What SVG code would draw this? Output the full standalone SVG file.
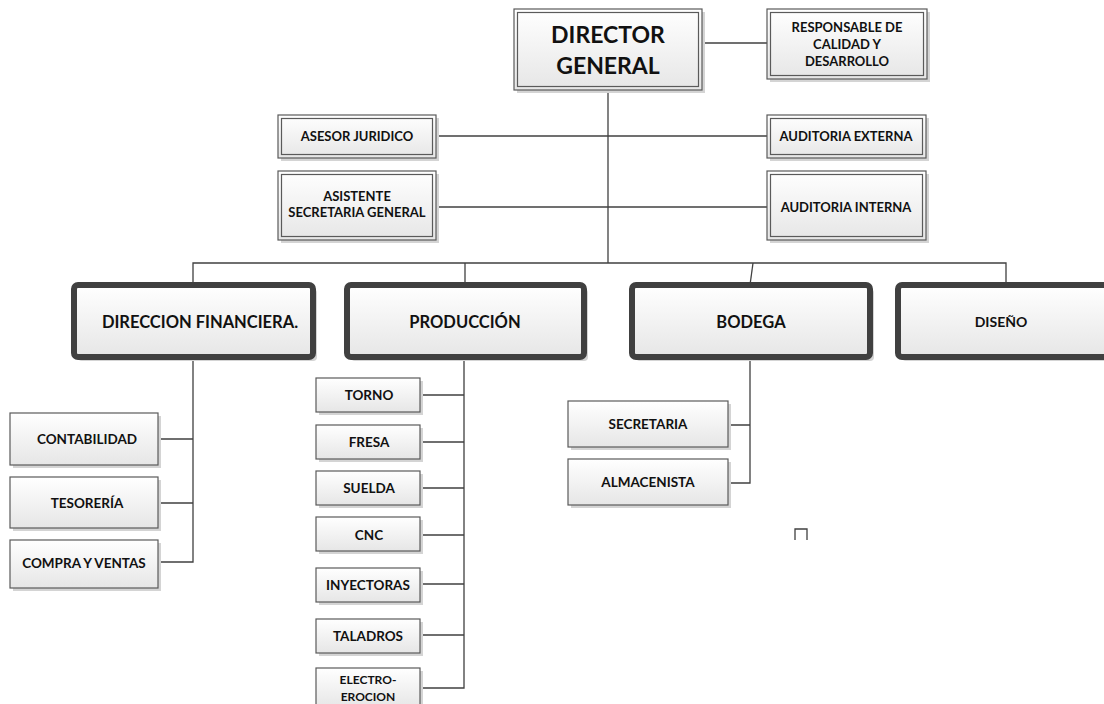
<svg xmlns="http://www.w3.org/2000/svg" width="1104" height="704" viewBox="0 0 1104 704">
<defs>
<linearGradient id="g" x1="0" y1="0" x2="0" y2="1"><stop offset="0" stop-color="#ffffff"/><stop offset="1" stop-color="#e6e6e6"/></linearGradient>
<style>
.sh{fill:#d4d4d4}
.b{fill:url(#g);stroke:#5a5a5a;stroke-width:1.2}
.bi{fill:none;stroke:#5a5a5a;stroke-width:1.2}
.thick{fill:url(#g);stroke:#404040;stroke-width:6}
.c{fill:none;stroke:#404040;stroke-width:1.3}
text{font-family:Lato,"Open Sans","Liberation Sans",sans-serif;font-weight:bold;fill:#111;text-anchor:middle}
.t11{font-size:13px}
.t12{font-size:13.5px}
.te{font-size:12px}
.tds{font-size:14px}
.t14{font-size:16.5px}
.t23{font-size:23px}
</style>
</defs>
<rect width="1104" height="704" fill="#fff"/>
<g id="connectors">
<path class="c" d="M702,43 H767"/>
<path class="c" d="M608,90 V263"/>
<path class="c" d="M436,136 H767"/>
<path class="c" d="M436,207 H767"/>
<path class="c" d="M193,285 V263 H1006 V285"/>
<path class="c" d="M465,263 V285"/>
<path class="c" d="M753,263 L750,285"/>
<path class="c" d="M193,357 V562 H158"/>
<path class="c" d="M158,439 H193 M158,503 H193"/>
<path class="c" d="M464,357 V688 H420"/>
<path class="c" d="M420,395 H464 M420,442 H464 M420,488 H464 M420,535 H464 M420,584 H464 M420,635 H464"/>
<path class="c" d="M750,357 V483 H728 M728,425 H750"/>
<path class="c" d="M795,540 V529 H807 V540"/>
</g>
<g id="director">
<rect class="sh" x="517" y="12" width="188" height="81"/>
<rect class="b" x="514" y="9" width="188" height="81"/>
<rect class="bi" x="517.5" y="12.5" width="181" height="74"/>
<text class="t23" x="608" y="43">DIRECTOR</text>
<text class="t23" x="608" y="74">GENERAL</text>
</g>
<g id="responsable">
<rect class="sh" x="770" y="12" width="160" height="70"/>
<rect class="b" x="767" y="9" width="160" height="70"/>
<rect class="bi" x="770.5" y="12.5" width="153" height="63"/>
<text class="t11" x="847" y="32">RESPONSABLE DE</text>
<text class="t11" x="847" y="49">CALIDAD Y</text>
<text class="t11" x="847" y="66">DESARROLLO</text>
</g>
<g id="asesor">
<rect class="sh" x="281" y="118" width="158" height="43"/>
<rect class="b" x="278" y="115" width="158" height="43"/>
<rect class="bi" x="281.5" y="118.5" width="151" height="36"/>
<text class="t11" x="357" y="141">ASESOR JURIDICO</text>
</g>
<g id="auditoria-externa">
<rect class="sh" x="770" y="118" width="159" height="43"/>
<rect class="b" x="767" y="115" width="159" height="43"/>
<rect class="bi" x="770.5" y="118.5" width="152" height="36"/>
<text class="t11" x="846" y="141">AUDITORIA EXTERNA</text>
</g>
<g id="asistente">
<rect class="sh" x="281" y="174" width="158" height="69"/>
<rect class="b" x="278" y="171" width="158" height="69"/>
<rect class="bi" x="281.5" y="174.5" width="151" height="62"/>
<text class="t11" x="357" y="201">ASISTENTE</text>
<text class="t11" x="357" y="217">SECRETARIA GENERAL</text>
</g>
<g id="auditoria-interna">
<rect class="sh" x="770" y="174" width="159" height="69"/>
<rect class="b" x="767" y="171" width="159" height="69"/>
<rect class="bi" x="770.5" y="174.5" width="152" height="62"/>
<text class="t11" x="846" y="212">AUDITORIA INTERNA</text>
</g>
<g id="direccion-financiera">
<rect class="sh" x="78" y="289" width="239" height="72" rx="4"/>
<rect class="thick" x="74" y="285" width="239" height="72" rx="4"/>
<text class="t14" x="200" y="328">DIRECCION FINANCIERA.</text>
</g>
<g id="produccion">
<rect class="sh" x="351" y="289" width="237" height="72" rx="4"/>
<rect class="thick" x="347" y="285" width="237" height="72" rx="4"/>
<text class="t14" x="465" y="328">PRODUCCIÓN</text>
</g>
<g id="bodega">
<rect class="sh" x="636" y="289" width="238" height="72" rx="4"/>
<rect class="thick" x="632" y="285" width="238" height="72" rx="4"/>
<text class="t14" x="751" y="328">BODEGA</text>
</g>
<g id="diseno">
<rect class="sh" x="902" y="289" width="210" height="72" rx="4"/>
<rect class="thick" x="898" y="285" width="210" height="72" rx="4"/>
<text class="tds" x="1001" y="327">DISEÑO</text>
</g>
<g id="contabilidad">
<rect class="sh" x="13" y="416" width="148" height="52"/>
<rect class="b" x="10" y="413" width="148" height="52"/>
<text class="t12" x="87" y="444">CONTABILIDAD</text>
</g>
<g id="tesoreria">
<rect class="sh" x="13" y="480" width="148" height="51"/>
<rect class="b" x="10" y="477" width="148" height="51"/>
<text class="t12" x="87" y="508">TESORERÍA</text>
</g>
<g id="compra-ventas">
<rect class="sh" x="13" y="543" width="148" height="48"/>
<rect class="b" x="10" y="540" width="148" height="48"/>
<text class="t12" x="84" y="568">COMPRA Y VENTAS</text>
</g>
<g id="torno">
<rect class="sh" x="319" y="381" width="104" height="34"/>
<rect class="b" x="316" y="378" width="104" height="34"/>
<text class="t12" x="369" y="400">TORNO</text>
</g>
<g id="fresa">
<rect class="sh" x="319" y="428" width="104" height="34"/>
<rect class="b" x="316" y="425" width="104" height="34"/>
<text class="t12" x="369" y="447">FRESA</text>
</g>
<g id="suelda">
<rect class="sh" x="319" y="474" width="104" height="34"/>
<rect class="b" x="316" y="471" width="104" height="34"/>
<text class="t12" x="369" y="493">SUELDA</text>
</g>
<g id="cnc">
<rect class="sh" x="319" y="520" width="104" height="34"/>
<rect class="b" x="316" y="517" width="104" height="34"/>
<text class="t12" x="369" y="540">CNC</text>
</g>
<g id="inyectoras">
<rect class="sh" x="319" y="571" width="104" height="34"/>
<rect class="b" x="316" y="568" width="104" height="34"/>
<text class="t12" x="368" y="590">INYECTORAS</text>
</g>
<g id="taladros">
<rect class="sh" x="319" y="622" width="104" height="34"/>
<rect class="b" x="316" y="619" width="104" height="34"/>
<text class="t12" x="368" y="641">TALADROS</text>
</g>
<g id="electroerocion">
<rect class="sh" x="319" y="671" width="104" height="40"/>
<rect class="b" x="316" y="668" width="104" height="40"/>
<text class="te" x="368" y="684">ELECTRO-</text>
<text class="te" x="368" y="701">EROCION</text>
</g>
<g id="secretaria">
<rect class="sh" x="571" y="404" width="160" height="46"/>
<rect class="b" x="568" y="401" width="160" height="46"/>
<text class="t12" x="648" y="429">SECRETARIA</text>
</g>
<g id="almacenista">
<rect class="sh" x="571" y="462" width="160" height="46"/>
<rect class="b" x="568" y="459" width="160" height="46"/>
<text class="t12" x="648" y="487">ALMACENISTA</text>
</g>
</svg>
